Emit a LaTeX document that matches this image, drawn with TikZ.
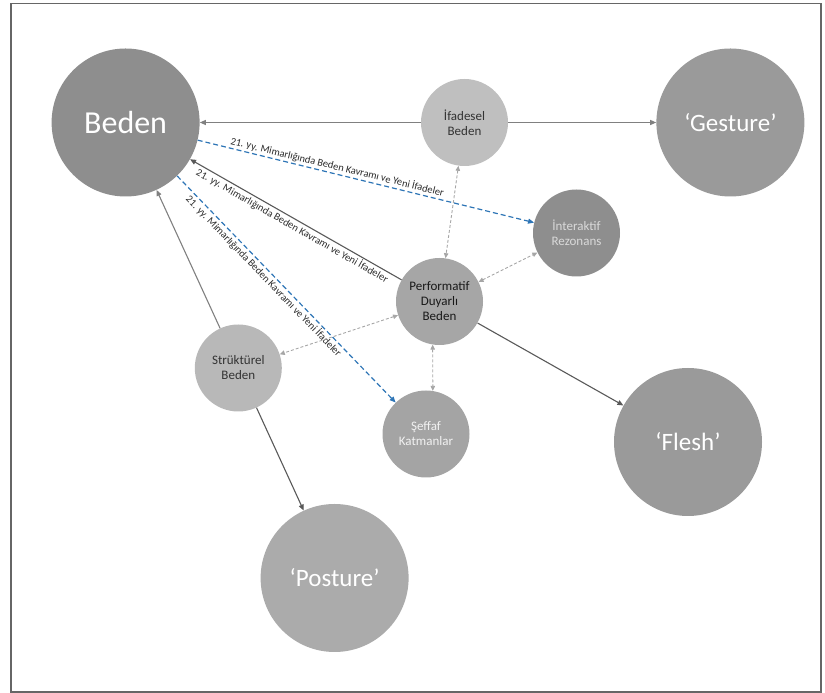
\documentclass[tikz,border=0pt]{standalone}
\usepackage{fontspec}
\setmainfont{Carlito}
\usetikzlibrary{arrows.meta, positioning}

\definecolor{darkfill}{HTML}{8E8E8E}
\definecolor{midfill}{HTML}{9A9A9A}
\definecolor{lightfill}{HTML}{ABABAB}
\definecolor{palefill}{HTML}{BFBFBF}
\definecolor{linkgray}{HTML}{808080}
\definecolor{linkdark}{HTML}{595959}
\definecolor{hintgray}{HTML}{A6A6A6}
\definecolor{linkblue}{HTML}{2E75B6}
\definecolor{labeltext}{HTML}{2B2B2B}

\begin{document}
\begin{tikzpicture}[
  x=1pt, y=1pt,
  every node/.style={font=\fontsize{13}{15}\selectfont},
  big/.style={circle, minimum size=148pt, inner sep=0pt, text=white, font=\fontsize{25}{30}\selectfont},
  small/.style={circle, minimum size=87pt, inner sep=0pt, align=center, font=\fontsize{13}{15}\selectfont},
  link/.style={-{Triangle[length=6pt,width=5pt]}, line width=1.1pt, draw=linkgray},
  darklink/.style={link, draw=linkdark},
  bluelink/.style={-{Triangle[length=6pt,width=5pt]}, line width=1.2pt, draw=linkblue, dash pattern=on 5pt off 3pt},
  hint/.style={{Triangle[length=5pt,width=4.5pt]}-{Triangle[length=5pt,width=4.5pt]}, line width=0.9pt, draw=hintgray, dash pattern=on 3pt off 2pt},
  lbl/.style={font=\fontsize{10.4}{12}\selectfont, text=labeltext, sloped, inner sep=1.5pt}
]
\useasboundingbox (0,0) rectangle (825,693);
\draw[line width=1.2pt, draw=black!60] (11,1) rectangle (821,689.5);

% Nodes
\node[small, fill=palefill, text=black!80] (ifadesel) at (464.5,570.5) {İfadesel\\Beden};
\node[big, fill=darkfill, font=\fontsize{32}{38}\selectfont, left=221pt of ifadesel] (beden) {Beden};
\node[big, fill=midfill, right=148pt of ifadesel] (gesture) {‘Gesture’};
\node[small, fill=darkfill, text=black!15] (interaktif) at (576.5,460) {İnteraktif\\Rezonans};
\node[small, fill=hintgray, text=black!90] (performatif) at (439.5,391.5) {Performatif\\Duyarlı\\Beden};
\node[small, fill=lightfill!85!white, text=black!80] (struktur) at (238.3,325) {Strüktürel\\Beden};
\node[small, fill=midfill!90!white, text=black!5] (seffaf) at (426,259) {Şeffaf\\Katmanlar};
\node[big, fill=midfill] (flesh) at (688,251) {‘Flesh’};
\node[big, fill=lightfill] (posture) at (334.6,115) {‘Posture’};

% Arrows
\draw[link] (ifadesel) -- (beden);
\draw[link] (ifadesel) -- (gesture);
\draw[link] (struktur) -- (beden);
\draw[darklink] (struktur) -- (posture);
\draw[darklink] (performatif) -- (flesh);
\draw[darklink, {Triangle[length=6pt,width=5pt]}-] (beden) -- node[lbl, below, pos=0.5] {21. yy. Mimarlığında Beden Kavramı ve Yeni İfadeler} (performatif);
\draw[bluelink] (beden) -- node[lbl, above, pos=0.41] {21. yy. Mimarlığında Beden Kavramı ve Yeni İfadeler} (interaktif);
\draw[bluelink] (beden) -- node[lbl, below, pos=0.42] {21. yy. Mimarlığında Beden Kavramı ve Yeni İfadeler} (seffaf);

% dashed links round Performatif
\draw[hint] (ifadesel) -- (performatif);
\draw[hint] (performatif) -- (interaktif);
\draw[hint] (performatif) -- (struktur);
\draw[hint] (performatif.261) -- (seffaf.81);
\end{tikzpicture}
\end{document}
